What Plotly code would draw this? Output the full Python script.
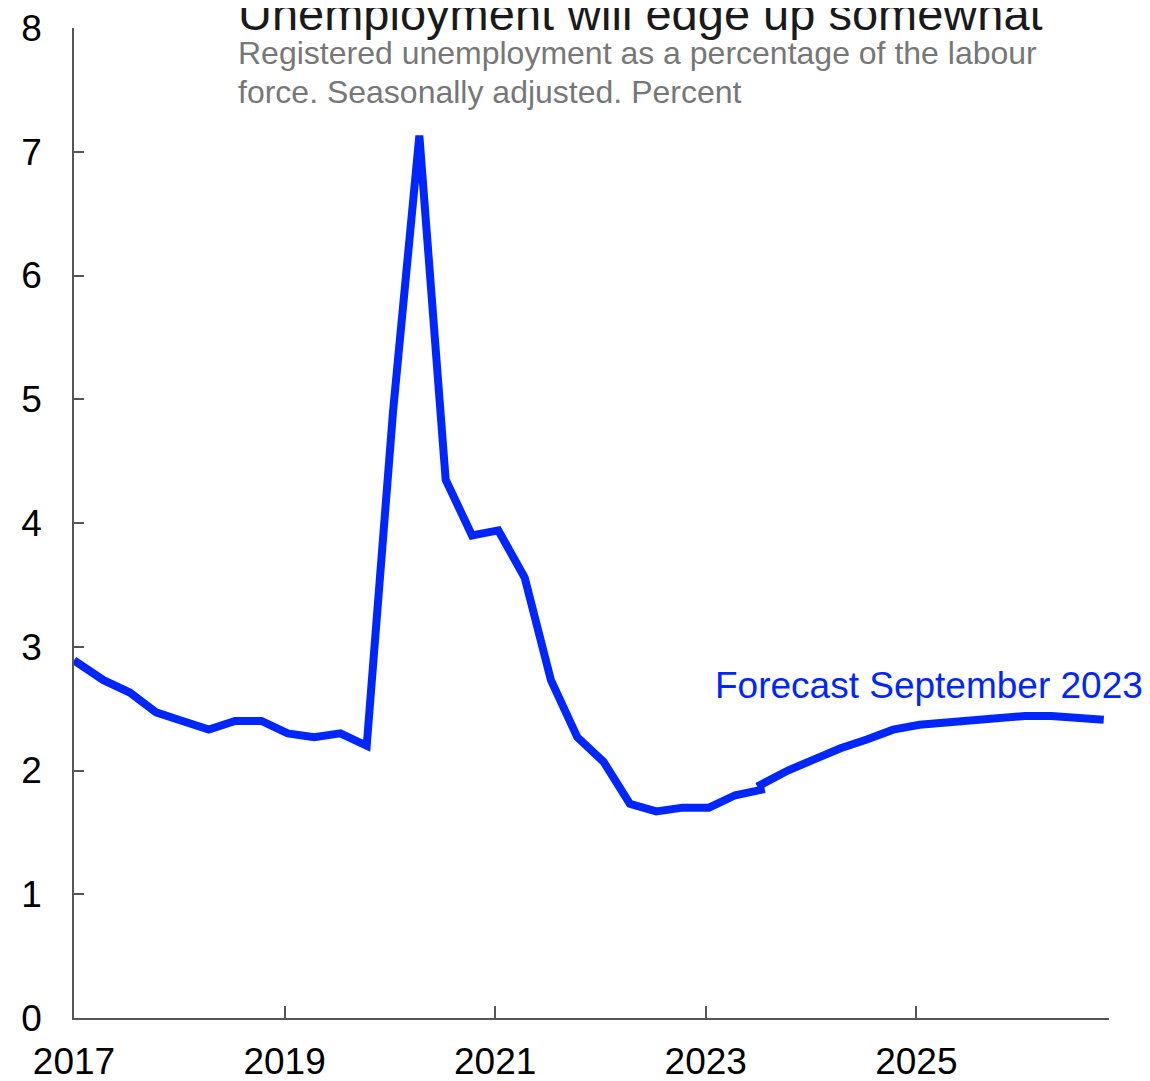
import plotly.graph_objects as go

# Data (decimal years)
hist_x = [2017.0, 2017.28, 2017.53, 2017.78, 2018.03, 2018.28, 2018.53, 2018.78,
          2019.03, 2019.28, 2019.53, 2019.78, 2020.03, 2020.28, 2020.53, 2020.78,
          2021.03, 2021.28, 2021.53, 2021.78, 2022.03, 2022.28, 2022.53, 2022.78,
          2023.03, 2023.28, 2023.56]
hist_y = [2.89, 2.73, 2.63, 2.47, 2.40, 2.33, 2.40, 2.40,
          2.30, 2.27, 2.30, 2.20, 4.90, 7.13, 4.35, 3.90,
          3.94, 3.56, 2.73, 2.27, 2.07, 1.73, 1.67, 1.70,
          1.70, 1.80, 1.85]
fc_x = [2023.49, 2023.78, 2024.03, 2024.28, 2024.53, 2024.78, 2025.03, 2025.28,
        2025.53, 2025.78, 2026.03, 2026.28, 2026.53, 2026.78]
fc_y = [1.87, 2.00, 2.09, 2.18, 2.25, 2.33, 2.37, 2.39,
        2.41, 2.43, 2.44, 2.44, 2.43, 2.41]
x_ticks = [2017, 2019, 2021, 2023, 2025]
y_ticks = [0, 1, 2, 3, 4, 5, 6, 7, 8]

BLUE = "#0026ff"
FONT = "Liberation Sans, Arial, sans-serif"

# page body has an 8px margin, so the figure is sized/offset accordingly
W, H = 1142, 1073
L, T, R, B = 66, 20, 41, 63
PH = H - T - B

fig = go.Figure()
fig.add_trace(go.Scatter(x=hist_x, y=hist_y, mode="lines",
                         line=dict(color=BLUE, width=8), showlegend=False,
                         hoverinfo="skip"))
fig.add_trace(go.Scatter(x=fc_x, y=fc_y, mode="lines",
                         line=dict(color=BLUE, width=8), showlegend=False,
                         hoverinfo="skip"))

def py(px):
    """screen pixel row (reference) -> paper y"""
    return 1 - (px - 8 - T) / PH

x0 = (238 - 8 - L - 2) / (W - L - R)

fig.update_layout(
    width=W, height=H, autosize=False,
    margin=dict(l=L, r=R, t=T, b=B, pad=0),
    paper_bgcolor="white", plot_bgcolor="white",
    font=dict(family=FONT, color="black", size=37),
    xaxis=dict(range=[2017, 2026.83], tickvals=x_ticks,
               ticktext=[str(v) for v in x_ticks], automargin=False,
               showgrid=False, zeroline=False, showline=True,
               linecolor="#555555", linewidth=1.5,
               ticks="inside", ticklen=12, tickcolor="#555555", tickwidth=1.5,
               ticklabeloverflow="allow",
               ticklabelstandoff=10, tickfont=dict(size=37, color="black")),
    yaxis=dict(range=[0, 8], tickvals=y_ticks, automargin=False,
               showgrid=False, zeroline=False, showline=True,
               linecolor="#555555", linewidth=1.5,
               ticks="inside", ticklen=10, tickcolor="#555555", tickwidth=1.5,
               ticklabeloverflow="allow",
               ticklabelstandoff=23, tickfont=dict(size=37, color="black")),
    annotations=[
        dict(text="Unemployment will edge up somewhat", xref="paper", yref="paper",
             x=x0, y=py(14), xanchor="left", yanchor="middle",
             showarrow=False, font=dict(size=47, color="#1a1a1a", family=FONT)),
        dict(text="Registered unemployment as a percentage of the labour",
             xref="paper", yref="paper", align="left",
             x=x0, y=py(53), xanchor="left", yanchor="middle",
             showarrow=False, font=dict(size=32, color="#777777", family=FONT)),
        dict(text="force. Seasonally adjusted. Percent",
             xref="paper", yref="paper", align="left",
             x=x0, y=py(92), xanchor="left", yanchor="middle",
             showarrow=False, font=dict(size=32, color="#777777", family=FONT)),
        dict(text="Forecast September 2023", xref="paper", yref="y",
             x=(1145 - 8 - L) / (W - L - R), y=2.69, xanchor="right", yanchor="middle",
             showarrow=False, font=dict(size=37, color=BLUE, family=FONT)),
    ],
)

fig.write_html("out.html")
